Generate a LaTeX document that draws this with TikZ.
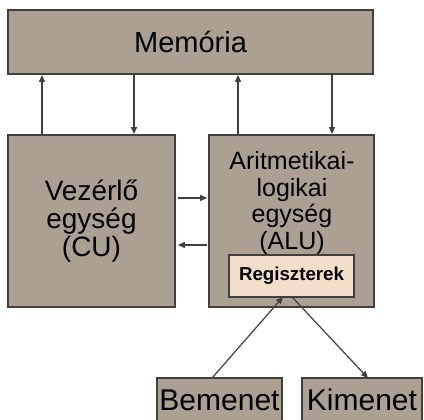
\documentclass[tikz,border=0pt]{standalone}
\usepackage{fontspec}
\setmainfont{Liberation Sans}
\usetikzlibrary{arrows.meta}
\definecolor{boxfill}{HTML}{ABA091}
\definecolor{boxline}{HTML}{404040}
\definecolor{regfill}{HTML}{F3DFC9}
\definecolor{arrcol}{HTML}{404040}
\begin{document}
\begin{tikzpicture}[x=1pt,y=-1pt,
  unitbox/.style={draw=boxline,line width=1.8pt,fill=boxfill,inner sep=0pt,align=center},
  arr/.style={draw=arrcol,line width=1.2pt,-{Triangle[length=7pt,width=6pt]}}]
\useasboundingbox[fill=white] (0,0) rectangle (424,420);
\node[unitbox,minimum width=365pt,minimum height=64pt,font=\fontsize{29}{30}\selectfont] (mem) at (190.5,42) {Memória};
\node[unitbox,minimum width=167pt,minimum height=172pt,font=\fontsize{28}{28}\selectfont] (cu) at (91.5,221) {};
\node[align=center,font=\fontsize{28}{28}\selectfont] (cut) at (91.5,221) {Vezérlő\\egység\\(CU)};
\node[unitbox,minimum width=165pt,minimum height=172pt] (alu) at (291.5,221) {};
\node[align=center,font=\fontsize{25}{26.5}\selectfont] (alut) at (292,203) {Aritmetikai-\\logikai\\egység\\(ALU)};
\node[draw=boxline,line width=1.8pt,fill=regfill,minimum width=125pt,minimum height=42pt,inner sep=0pt,font=\fontsize{18.7}{20}\selectfont\bfseries] (reg) at (291.5,276) {Regiszterek};
\node[unitbox,minimum width=125pt,minimum height=44pt,font=\fontsize{30}{30}\selectfont] (bem) at (219.5,400) {Bemenet};
\node[unitbox,minimum width=120pt,minimum height=44pt,font=\fontsize{30}{30}\selectfont] (kim) at (362,400) {Kimenet};
\coordinate (a1) at (42,0);
\coordinate (a2) at (134,0);
\coordinate (a3) at (238,0);
\coordinate (a4) at (332,0);
\coordinate (h1) at (0,198);
\coordinate (h2) at (0,245);
\coordinate (b1) at (212,0);
\coordinate (r1) at (283,0);
\coordinate (r2) at (292,0);
\coordinate (k1) at (368,0);
\draw[arr] (cu.north -| a1) -- (mem.south -| a1);
\draw[arr] (mem.south -| a2) -- (cu.north -| a2);
\draw[arr] (alu.north -| a3) -- (mem.south -| a3);
\draw[arr] (mem.south -| a4) -- (alu.north -| a4);
\draw[arr] ([xshift=2pt]cu.east |- h1) -- ([xshift=-1pt]alu.west |- h1);
\draw[arr] ([xshift=-1pt]alu.west |- h2) -- ([xshift=2pt]cu.east |- h2);
\draw[arr] ([yshift=-1pt]bem.north -| b1) -- ([yshift=1pt]reg.south -| r1);
\draw[arr] ([yshift=1pt]reg.south -| r2) -- ([yshift=-1pt]kim.north -| k1);
\end{tikzpicture}
\end{document}
